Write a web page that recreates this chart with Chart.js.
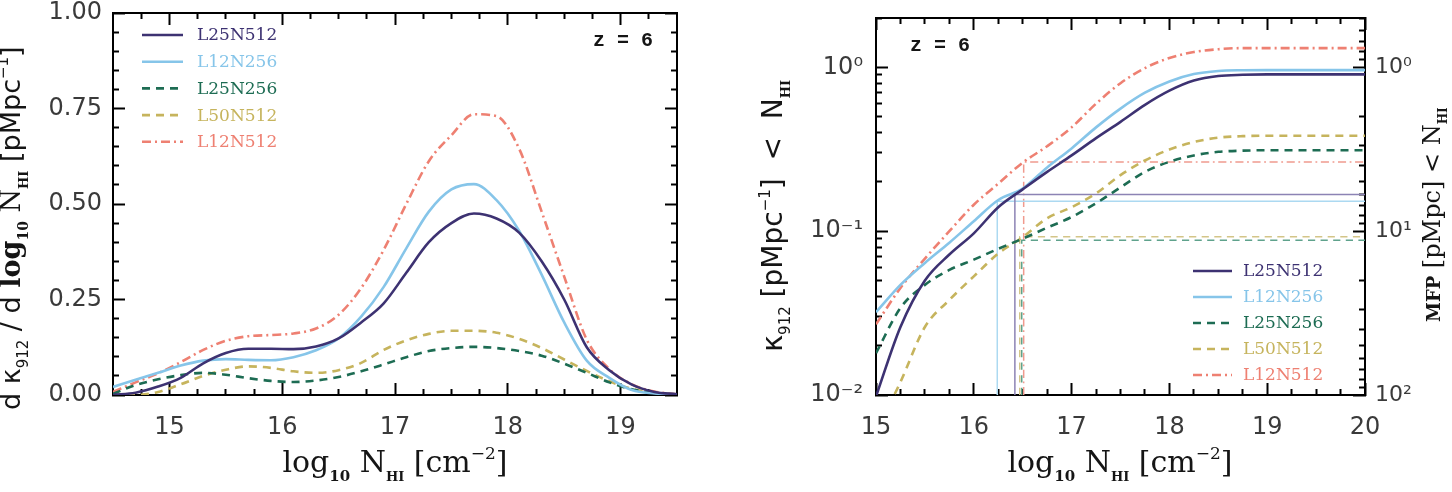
<!DOCTYPE html>
<html>
<head>
<meta charset="utf-8">
<script src="https://cdn.jsdelivr.net/npm/chart.js@4.4.1/dist/chart.umd.min.js"></script>
<style>
  html, body { margin: 0; padding: 0; background: #fff; }
  #wrap { display: flex; width: 1452px; height: 492px; }
</style>
</head>
<body>
<div id="wrap">
  <canvas id="diffChart" width="720" height="492"></canvas>
  <canvas id="cumChart" width="732" height="492"></canvas>
</div>
<script>
// ---- data ----
const models = ["L25N512", "L12N256", "L25N256", "L50N512", "L12N512"];
const lineColors = ["#3d3272", "#86c5e9", "#1d6c53", "#c6b45d", "#ee8072"];
const markerColors = ["#8c83b4", "#acd9f1", "#5fa28c", "#d3c588", "#f09a8e"];
const dashes = [[], [], [8, 6], [8, 6], [9, 4, 2, 4]];

// left panel: d kappa / d log N
const logN = [14.5, 14.7, 14.9, 15.1, 15.3, 15.5, 15.7, 15.9, 16.1, 16.3, 16.5, 16.7, 16.9,
              17.1, 17.3, 17.5, 17.7, 17.9, 18.1, 18.3, 18.5, 18.7, 18.9, 19.1, 19.3, 19.5];
const dkL25N512 = [0.0, 0.006, 0.022, 0.045, 0.083, 0.11, 0.121, 0.121, 0.12, 0.127, 0.148, 0.19, 0.24,
                   0.32, 0.40, 0.45, 0.475, 0.462, 0.425, 0.35, 0.25, 0.125, 0.065, 0.027, 0.008, 0.002];
const dkL12N256 = [0.021, 0.04, 0.058, 0.077, 0.09, 0.094, 0.092, 0.091, 0.099, 0.117, 0.148, 0.205, 0.283,
                   0.384, 0.48, 0.538, 0.552, 0.51, 0.43, 0.315, 0.19, 0.09, 0.045, 0.013, 0.004, 0.001];
const dkL25N256 = [0.003, 0.026, 0.041, 0.052, 0.058, 0.053, 0.044, 0.037, 0.034, 0.038, 0.047, 0.062, 0.08,
                   0.099, 0.115, 0.123, 0.126, 0.123, 0.115, 0.103, 0.082, 0.058, 0.033, 0.015, 0.005, 0.001];
const dkL50N512 = [0.0, 0.0, 0.008, 0.028, 0.05, 0.066, 0.075, 0.071, 0.062, 0.058, 0.065, 0.084, 0.118,
                   0.143, 0.16, 0.168, 0.168, 0.163, 0.147, 0.123, 0.093, 0.063, 0.036, 0.016, 0.006, 0.001];
const dkL12N512 = [0.008, 0.033, 0.057, 0.086, 0.118, 0.142, 0.154, 0.157, 0.161, 0.174, 0.21, 0.28, 0.38,
                   0.50, 0.612, 0.68, 0.735, 0.73, 0.645, 0.48, 0.31, 0.145, 0.068, 0.028, 0.009, 0.002];

// right panel: cumulative kappa < N
const logNcum = [15, 15.25, 15.5, 15.75, 16, 16.25, 16.5, 16.75, 17, 17.25, 17.5,
                 17.75, 18, 18.25, 18.5, 18.75, 19, 19.25, 19.5, 19.75, 20];
const kL25N512 = [0.0098, 0.026, 0.05, 0.072, 0.097, 0.14, 0.18, 0.23, 0.29, 0.37, 0.465,
                  0.59, 0.72, 0.83, 0.885, 0.9, 0.905, 0.905, 0.905, 0.905, 0.905];
const kL12N256 = [0.032, 0.047, 0.064, 0.085, 0.115, 0.155, 0.182, 0.245, 0.32, 0.43, 0.56,
                  0.70, 0.82, 0.91, 0.95, 0.96, 0.962, 0.962, 0.962, 0.962, 0.962];
const kL25N256 = [0.018, 0.034, 0.047, 0.058, 0.067, 0.078, 0.09, 0.105, 0.122, 0.148, 0.185,
                  0.23, 0.265, 0.29, 0.305, 0.31, 0.312, 0.312, 0.312, 0.312, 0.312];
const kL50N512 = [0.006, 0.012, 0.026, 0.038, 0.053, 0.073, 0.092, 0.12, 0.14, 0.17, 0.22,
                  0.27, 0.315, 0.35, 0.372, 0.38, 0.382, 0.382, 0.382, 0.382, 0.382];
const kL12N512 = [0.027, 0.045, 0.068, 0.10, 0.145, 0.195, 0.262, 0.33, 0.43, 0.60, 0.80,
                  0.99, 1.14, 1.24, 1.29, 1.31, 1.31, 1.31, 1.31, 1.31, 1.31];

// MFP markers: log N where the curve reaches the MFP, and kappa there
const mfpLogN = [16.42, 16.24, 16.49, 16.47, 16.51];
const mfpKappa = [0.1675, 0.152, 0.088, 0.0925, 0.264];

// ticks
const leftXTicks = [15, 16, 17, 18, 19];
const leftYTicks = [0, 0.25, 0.5, 0.75, 1];
const rightXTicks = [15, 16, 17, 18, 19, 20];
const kappaTicks = [0.01, 0.1, 1];
const kappaTickLabels = ["10\u207B\u00B2", "10\u207B\u00B9", "10\u2070"];
const mfpTicks = [1, 10, 100];
const mfpTickLabels = ["10\u2070", "10\u00B9", "10\u00B2"];

// ---- helpers ----
const TICK_FONT = { family: "'DejaVu Sans', sans-serif", size: 24, lineHeight: 1 };
const TICK_COLOR = "#3a3a3a";
const SERIF = "'DejaVu Serif', serif";
const SANS = "'DejaVu Sans', sans-serif";
const MAJOR_LEN = 12;
const MINOR_LEN = 6;

const range = (lo, hi, step) => {
  const out = [];
  for (let v = lo; v <= hi + 1e-9; v += step) out.push(+v.toFixed(4));
  return out;
};
const logMinor = (lo, hi) => {
  const out = [];
  for (let d = 1e-3; d <= 1e3; d *= 10) {
    for (let m = 2; m <= 9; m++) {
      const v = +(m * d).toPrecision(6);
      if (v >= lo && v <= hi) out.push(v);
    }
  }
  return out;
};

// fixed scale size, and no extra label overflow padding pushed into the layout
const fixSize = (size) => (s) => {
  if (s.isHorizontal()) s.height = size; else s.width = size;
  s.paddingTop = 0; s.paddingBottom = 0; s.paddingLeft = 0; s.paddingRight = 0;
};

// grid settings for ticks pointing into the plot box
const inwardGrid = (len) => ({
  display: true, drawOnChartArea: false, drawTicks: true,
  tickLength: -len, tickColor: "#000", tickWidth: 2,
});
const boxBorder = { display: true, color: "#000", width: 2 };

// an extra scale that only carries inward tick marks (no labels, no size)
function tickScale(type, position, min, max, values, len, showBorder, reverse) {
  return {
    type: type, position: position, min: min, max: max, reverse: !!reverse,
    display: true, weight: 0,
    afterBuildTicks: (s) => { s.ticks = values.map((v) => ({ value: v })); },
    afterFit: fixSize(0),
    grid: inwardGrid(len),
    border: showBorder ? boxBorder : { display: false },
    ticks: { display: false, autoSkip: false },
  };
}

// legend drawn inside the plot box
function makeLegend(o) {
  return {
    id: "insideLegend",
    afterDraw(chart) {
      const ctx = chart.ctx;
      ctx.save();
      ctx.font = o.font;
      ctx.textBaseline = "middle";
      ctx.textAlign = "left";
      for (let i = 0; i < o.count; i++) {
        const ds = chart.data.datasets[i];
        const y = o.y + i * o.dy;
        ctx.strokeStyle = ds.borderColor;
        ctx.lineWidth = ds.borderWidth;
        ctx.setLineDash(ds.borderDash || []);
        ctx.beginPath();
        ctx.moveTo(o.x, y);
        ctx.lineTo(o.x + o.len, y);
        ctx.stroke();
        ctx.setLineDash([]);
        ctx.fillStyle = ds.borderColor;
        ctx.fillText(ds.label, o.x + o.len + o.gap, y + 1);
      }
      ctx.restore();
    },
  };
}

// axis titles with sub/superscripts
function makeRichText(items) {
  return {
    id: "richText",
    afterDraw(chart) {
      const ctx = chart.ctx;
      items.forEach((it) => {
        ctx.save();
        ctx.translate(it.x, it.y);
        if (it.rotate) ctx.rotate(-Math.PI / 2);
        let w = 0;
        it.parts.forEach((p) => { ctx.font = p.f; p.w = ctx.measureText(p.t).width; w += p.w; });
        let cx = it.align === "center" ? -w / 2 : 0;
        ctx.textAlign = "left";
        ctx.textBaseline = "alphabetic";
        it.parts.forEach((p) => {
          ctx.font = p.f;
          ctx.fillStyle = p.c || "#151515";
          ctx.fillText(p.t, cx, p.dy || 0);
          cx += p.w;
        });
        ctx.restore();
      });
    },
  };
}

const xTitleParts = () => [
  { t: "log", f: `30px ${SERIF}` },
  { t: "10", f: `bold 15px ${SERIF}`, dy: 9 },
  { t: " N", f: `30px ${SERIF}` },
  { t: "HI", f: `bold 13px ${SERIF}`, dy: 9 },
  { t: " [cm", f: `30px ${SERIF}` },
  { t: "\u22122", f: `17px ${SERIF}`, dy: -13 },
  { t: "]", f: `30px ${SERIF}` },
];

// ---- left panel ----
const diffSeries = [dkL25N512, dkL12N256, dkL25N256, dkL50N512, dkL12N512];
const diffDatasets = diffSeries.map((vals, i) => ({
  label: models[i],
  data: logN.map((x, j) => ({ x: x, y: vals[j] })),
  borderColor: lineColors[i],
  borderWidth: 2.6,
  borderDash: dashes[i],
  pointRadius: 0,
  fill: false,
  cubicInterpolationMode: "monotone",
  xAxisID: "x",
  yAxisID: "y",
}));

const leftXMinor = range(14.75, 19.25, 0.25).filter((v) => v % 1 !== 0);
const leftYMinor = range(0.05, 0.95, 0.05).filter((v) => Math.abs(v * 4 - Math.round(v * 4)) > 1e-6);

new Chart(document.getElementById("diffChart"), {
  type: "line",
  data: { datasets: diffDatasets },
  plugins: [
    makeLegend({ x: 142, y: 35, dy: 26.7, len: 41, gap: 14, count: 5, font: `17px ${SERIF}` }),
    makeRichText([
      { x: 395, y: 472, align: "center", parts: xTitleParts() },
      {
        x: 20, y: 410, rotate: true, align: "start",
        parts: [
          { t: "d \u03BA", f: `27px ${SANS}` },
          { t: "912", f: `15px ${SANS}`, dy: 8 },
          { t: " / d ", f: `27px ${SANS}` },
          { t: "log", f: `bold 27px ${SERIF}` },
          { t: "10", f: `bold 14px ${SERIF}`, dy: 8 },
          { t: " N", f: `27px ${SERIF}` },
          { t: "HI", f: `bold 13px ${SERIF}`, dy: 8 },
          { t: " [pMpc", f: `27px ${SANS}` },
          { t: "\u22121", f: `15px ${SANS}`, dy: -12 },
          { t: "]", f: `27px ${SANS}` },
        ],
      },
      { x: 593, y: 46, align: "start", parts: [{ t: "z = 6", f: `bold 20px 'Liberation Mono', monospace` }] },
    ]),
  ],
  options: {
    responsive: false,
    animation: false,
    layout: { padding: { top: 13, right: 43, left: 0, bottom: 0 } },
    scales: {
      x: {
        type: "linear", position: "bottom", min: 14.5, max: 19.5, weight: 1,
        afterBuildTicks: (s) => { s.ticks = leftXTicks.map((v) => ({ value: v })); },
        afterFit: fixSize(97),
        grid: inwardGrid(MAJOR_LEN), border: boxBorder,
        ticks: { padding: 33, autoSkip: false, font: TICK_FONT, color: TICK_COLOR, maxRotation: 0, callback: (v) => String(v) },
      },
      xMinor: tickScale("linear", "bottom", 14.5, 19.5, leftXMinor, MINOR_LEN, false),
      xTop: tickScale("linear", "top", 14.5, 19.5, leftXTicks, MAJOR_LEN, true),
      xTopMinor: tickScale("linear", "top", 14.5, 19.5, leftXMinor, MINOR_LEN, false),
      y: {
        type: "linear", position: "left", min: 0, max: 1, weight: 1,
        afterBuildTicks: (s) => { s.ticks = leftYTicks.map((v) => ({ value: v })); },
        afterFit: fixSize(113),
        grid: inwardGrid(MAJOR_LEN), border: boxBorder,
        ticks: { padding: 23, autoSkip: false, align: "inner", font: TICK_FONT, color: TICK_COLOR, callback: (v) => v.toFixed(2) },
      },
      yMinor: tickScale("linear", "left", 0, 1, leftYMinor, MINOR_LEN, false),
      yRight: tickScale("linear", "right", 0, 1, leftYTicks, MAJOR_LEN, true),
      yRightMinor: tickScale("linear", "right", 0, 1, leftYMinor, MINOR_LEN, false),
    },
    plugins: { legend: { display: false }, tooltip: { enabled: false } },
  },
});

// ---- right panel ----
const cumSeries = [kL25N512, kL12N256, kL25N256, kL50N512, kL12N512];
const cumDatasets = cumSeries.map((vals, i) => ({
  label: models[i],
  data: logNcum.map((x, j) => ({ x: x, y: vals[j] })),
  borderColor: lineColors[i],
  borderWidth: 2.6,
  borderDash: dashes[i],
  pointRadius: 0,
  fill: false,
  cubicInterpolationMode: "monotone",
  xAxisID: "x",
  yAxisID: "y",
}));
// thin MFP markers: up from the bottom, then across to the right edge
const markerDatasets = mfpLogN.map((xv, i) => ({
  label: models[i] + " MFP",
  data: [
    { x: xv, y: kappaTicks[0] },
    { x: xv, y: mfpKappa[i] },
    { x: rightXTicks[rightXTicks.length - 1], y: mfpKappa[i] },
  ],
  borderColor: markerColors[i],
  borderWidth: 1.5,
  borderDash: dashes[i].length ? dashes[i].map((d) => d * 0.9) : [],
  pointRadius: 0,
  tension: 0,
  fill: false,
  xAxisID: "x",
  yAxisID: "y",
}));

const rightXMinor = range(15.25, 19.75, 0.25).filter((v) => v % 1 !== 0);

new Chart(document.getElementById("cumChart"), {
  type: "line",
  data: { datasets: [...cumDatasets, ...markerDatasets] },
  plugins: [
    makeLegend({ x: 473, y: 271, dy: 26, len: 39, gap: 11, count: 5, font: `17px ${SERIF}` }),
    makeRichText([
      { x: 400, y: 472, align: "center", parts: xTitleParts() },
      {
        x: 62, y: 352, rotate: true, align: "start",
        parts: [
          { t: "\u03BA", f: `29px ${SANS}` },
          { t: "912", f: `15px ${SANS}`, dy: 8 },
          { t: " [pMpc", f: `28px ${SANS}` },
          { t: "\u22121", f: `15px ${SANS}`, dy: -12 },
          { t: "]  <  N", f: `28px ${SANS}` },
          { t: "HI", f: `bold 13px ${SERIF}`, dy: 8 },
        ],
      },
      {
        x: 720, y: 322, rotate: true, align: "start",
        parts: [
          { t: "MFP", f: `bold 18px ${SERIF}` },
          { t: " [pMpc] < N", f: `24px ${SERIF}` },
          { t: "HI", f: `bold 12px ${SERIF}`, dy: 7 },
        ],
      },
      { x: 190, y: 51, align: "start", parts: [{ t: "z = 6", f: `bold 20px 'Liberation Mono', monospace` }] },
    ]),
  ],
  options: {
    responsive: false,
    animation: false,
    layout: { padding: { top: 18, right: 0, left: 0, bottom: 0 } },
    scales: {
      x: {
        type: "linear", position: "bottom", min: 15, max: 20, weight: 1,
        afterBuildTicks: (s) => { s.ticks = rightXTicks.map((v) => ({ value: v })); },
        afterFit: fixSize(97),
        grid: inwardGrid(MAJOR_LEN), border: boxBorder,
        ticks: { padding: 33, autoSkip: false, font: TICK_FONT, color: TICK_COLOR, maxRotation: 0, callback: (v) => String(v) },
      },
      xMinor: tickScale("linear", "bottom", 15, 20, rightXMinor, MINOR_LEN, false),
      xTop: tickScale("linear", "top", 15, 20, rightXTicks, MAJOR_LEN, true),
      xTopMinor: tickScale("linear", "top", 15, 20, rightXMinor, MINOR_LEN, false),
      y: {
        type: "logarithmic", position: "left", min: 0.01, max: 2, weight: 1,
        afterBuildTicks: (s) => { s.ticks = kappaTicks.map((v) => ({ value: v })); },
        afterFit: fixSize(156),
        grid: inwardGrid(MAJOR_LEN), border: boxBorder,
        ticks: {
          padding: 25, autoSkip: false, font: TICK_FONT, color: TICK_COLOR,
          callback: (v) => kappaTickLabels[kappaTicks.indexOf(v)] ?? "",
        },
      },
      yMinor: tickScale("logarithmic", "left", 0.01, 2, logMinor(0.01, 2), MINOR_LEN, false),
      y2: {
        type: "logarithmic", position: "right", min: 0.5, max: 100, reverse: true, weight: 1,
        afterBuildTicks: (s) => { s.ticks = mfpTicks.map((v) => ({ value: v })); },
        afterFit: fixSize(87),
        grid: inwardGrid(MAJOR_LEN), border: boxBorder,
        ticks: {
          padding: 22, autoSkip: false, font: { family: TICK_FONT.family, size: 22, lineHeight: 1 }, color: TICK_COLOR,
          callback: (v) => mfpTickLabels[mfpTicks.indexOf(v)] ?? "",
        },
      },
      y2Minor: tickScale("logarithmic", "right", 0.5, 100, logMinor(0.5, 100), MINOR_LEN, false, true),
    },
    plugins: { legend: { display: false }, tooltip: { enabled: false } },
  },
});
</script>
</body>
</html>
